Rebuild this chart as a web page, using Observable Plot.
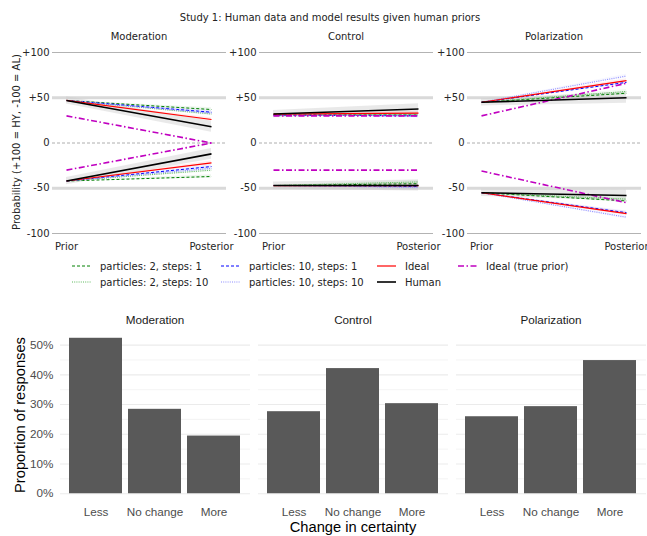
<!DOCTYPE html>
<html><head><meta charset="utf-8">
<script src="https://cdn.jsdelivr.net/npm/d3@7"></script>
<script src="https://cdn.jsdelivr.net/npm/@observablehq/plot@0.6"></script>
<style>
body{margin:0;background:#fff;}
#root{position:relative;width:647px;height:536px;overflow:hidden;background:#fff;}
.abs{position:absolute;white-space:nowrap;}
.c{transform:translate(-50%,-50%);}
.top{font-family:"DejaVu Sans";font-size:10px;color:#222;}
.bot{font-family:"Liberation Sans";color:#1a1a1a;}
svg.plot{position:absolute;overflow:visible;}
</style></head>
<body><div id="root"></div>
<script>
// ---------- data ----------
const conditions = ["Moderation", "Control", "Polarization"];
const stages = ["Prior", "Posterior"];
const seriesNames = ["particles: 2, steps: 1", "particles: 2, steps: 10", "particles: 10, steps: 1",
  "particles: 10, steps: 10", "Ideal", "Ideal (true prior)", "Human"];
// [prior, posterior] per series, upper (HY) group and lower (AL) group
const moderationHigh = [[47, 37], [47, 32], [47, 34], [47, 33], [47, 26], [30, 0], [47, 18]];
const moderationLow = [[-42, -37], [-42, -30], [-42, -26], [-42, -28], [-42, -22], [-30, 0], [-42, -12]];
const controlHigh = [[31, 31], [31, 31], [31, 30], [31, 30], [32, 33], [30, 30], [32, 37.5]];
const controlLow = [[-47, -45], [-47, -43], [-47, -48], [-47, -49], [-47, -47], [-30, -30], [-47, -47]];
const polarizationHigh = [[45, 55], [45, 57], [45, 67], [45, 74], [45, 69], [30, 66], [45, 50]];
const polarizationLow = [[-55, -64], [-55, -62], [-55, -77], [-55, -82], [-55, -78], [-31, -66], [-55, -58]];
const humanCI = [4, 6];
const yTicks = [100, 50, 0, -50, -100];
const yTickLabels = ["+100", "+50", "0", "-50", "-100"];

const certaintyLevels = ["Less", "No change", "More"];
const moderationBars = [52.3, 28.4, 19.4];
const controlBars = [27.6, 42.1, 30.3];
const polarizationBars = [25.9, 29.3, 44.8];
const pctTicks = [0, 10, 20, 30, 40, 50];
const pctMinor = [5, 15, 25, 35, 45];

// ---------- styles ----------
const seriesStyle = [
  {stroke: "#008000", dash: "3,2", w: 1},
  {stroke: "#5cb85c", dash: "1,1.2", w: 1},
  {stroke: "#0000ff", dash: "3,2", w: 1},
  {stroke: "#8c8cff", dash: "1,1.2", w: 1.1},
  {stroke: "#ff0000", dash: null, w: 1.2},
  {stroke: "#c000c0", dash: "6,2.5,1.5,2.5", w: 1.6},
  {stroke: "#000000", dash: null, w: 1.6}
];

const root = document.getElementById("root");
function addText(html, x, y, cls, style) {
  const d = document.createElement("div");
  d.className = "abs c " + cls;
  d.innerHTML = html;
  d.style.left = x + "px"; d.style.top = y + "px";
  if (style) Object.assign(d.style, style);
  root.appendChild(d);
  return d;
}

// ---------- top row ----------
addText("Study 1: Human data and model results given human priors", 330, 17, "top");
addText("Probability (+100 = HY, -100 = AL)", 16, 142, "top", {transform: "translate(-50%,-50%) rotate(-90deg)"});

const topData = [[moderationHigh, moderationLow], [controlHigh, controlLow], [polarizationHigh, polarizationLow]];
const topFrames = [52, 259, 467];
const frameW = 174;

topData.forEach(([hi, lo], ci) => {
  const rows = [];
  [hi, lo].forEach((grp, g) => grp.forEach((pair, s) => pair.forEach((v, t) =>
    rows.push({group: g, series: s, stage: t, value: v}))));
  const ml = 52;
  const marks = [
    Plot.ruleY([100, -100], {stroke: "#b3b3b3", strokeWidth: 1}),
    Plot.ruleY([50, -50], {stroke: "#d9d9d9", strokeWidth: 3}),
    Plot.ruleY([0], {stroke: "#999", strokeWidth: 0.8, strokeDasharray: "3,2"}),
    Plot.areaY(rows.filter(d => d.series === 6), {x: "stage", y1: d => d.value - humanCI[d.stage], y2: d => d.value + humanCI[d.stage], z: "group", fill: "#cfcfcf", fillOpacity: 0.45}),
    ...seriesStyle.map((st, s) => Plot.areaY(rows.filter(d => d.series === s && s < 5), {x: "stage", y1: d => d.value - d.stage * 2, y2: d => d.value + d.stage * 2, z: "group", fill: st.stroke, fillOpacity: 0.07})),
    ...seriesStyle.map((st, s) => Plot.line(rows.filter(d => d.series === s), {
      x: "stage", y: "value", z: "group", stroke: st.stroke, strokeWidth: st.w,
      strokeDasharray: st.dash, strokeLinecap: "butt"
    })),
    Plot.axisY({ticks: yTicks, tickFormat: (d, i) => yTickLabels[yTicks.indexOf(d)], tickSize: 0, tickPadding: 3, label: null, fontSize: 10}),
    Plot.axisX({ticks: [0, 1], tickFormat: d => stages[d], tickSize: 0, tickPadding: 9, label: null, fontSize: 10})
  ];
  const svg = Plot.plot({
    width: ml + frameW, height: 260,
    marginLeft: ml, marginRight: 0, marginTop: 52, marginBottom: 27,
    x: {domain: [0, 1], range: [ml + 14, ml + 159]},
    y: {domain: [-100, 100], range: [233, 52]},
    style: {fontFamily: "DejaVu Sans", fontSize: "10px", color: "#262626", background: "transparent", overflow: "visible"},
    marks
  });
  svg.classList.add("plot");
  svg.style.left = (topFrames[ci] - ml) + "px";
  svg.style.top = "0px";
  root.appendChild(svg);
  addText(conditions[ci], topFrames[ci] + frameW / 2, 36, "top");
});

// legend
const legendPos = [[72, 266], [72, 282], [221, 266], [221, 282], [377, 266], [377, 282], [458, 266]];
const legendOrder = [0, 1, 2, 3, 4, 6, 5];
legendOrder.forEach((s, k) => {
  const [x, y] = legendPos[k];
  const st = seriesStyle[s];
  const d = document.createElement("div");
  d.className = "abs top";
  d.style.left = x + "px"; d.style.top = (y - 7) + "px";
  d.style.display = "flex"; d.style.alignItems = "center";
  d.innerHTML = `<svg width="20" height="14" style="margin-right:8px"><line x1="0" x2="19" y1="7" y2="7" stroke="${st.stroke}" stroke-width="${st.w}" ${st.dash ? `stroke-dasharray="${st.dash}"` : ""}/></svg><span>${seriesNames[s]}</span>`;
  root.appendChild(d);
});

// ---------- bottom row ----------
const barData = [moderationBars, controlBars, polarizationBars];
const botFrames = [60, 258, 456];
const botW = 190;
const yMax = d3.max(barData.flat()) * 1.05;
const yMin = -d3.max(barData.flat()) * 0.05;

barData.forEach((vals, ci) => {
  const rows = vals.map((v, i) => ({level: certaintyLevels[i], value: v}));
  const ml = 60;
  const marks = [
    Plot.ruleY(pctMinor, {stroke: "#f0f0f0", strokeWidth: 0.8}),
    Plot.ruleY(pctTicks, {stroke: "#ebebeb", strokeWidth: 1.1}),
    Plot.barY(rows, {x: "level", y: "value", fill: "#595959"}),
    Plot.axisX({tickSize: 0, tickPadding: 6.5, label: null, fontSize: 11.7, color: "#4d4d4d"})
  ];
  if (ci === 0) marks.push(Plot.axisY({ticks: pctTicks, tickFormat: d => d + "%", tickSize: 0, tickPadding: 7, label: null, fontSize: 11.7, color: "#4d4d4d"}));
  const svg = Plot.plot({
    width: ml + botW, height: 236,
    marginLeft: ml, marginRight: 0, marginTop: 30, marginBottom: 35,
    x: {domain: certaintyLevels, paddingInner: 0.1, paddingOuter: 0.15},
    y: {domain: [yMin, yMax], ...(ci === 0 ? {} : {axis: null})},
    style: {fontFamily: "Liberation Sans", fontSize: "11.7px", color: "#4d4d4d", background: "transparent", overflow: "visible"},
    marks
  });
  svg.classList.add("plot");
  svg.style.left = (botFrames[ci] - ml) + "px";
  svg.style.top = "300px";
  root.appendChild(svg);
  addText(conditions[ci], botFrames[ci] + botW / 2, 319, "bot", {fontSize: "11.7px"});
});
addText("Change in certainty", 353, 527, "bot", {fontSize: "14.7px", color: "#000"});
addText("Proportion of responses", 20, 415, "bot", {fontSize: "14.7px", color: "#000", transform: "translate(-50%,-50%) rotate(-90deg)"});
</script></body></html>
